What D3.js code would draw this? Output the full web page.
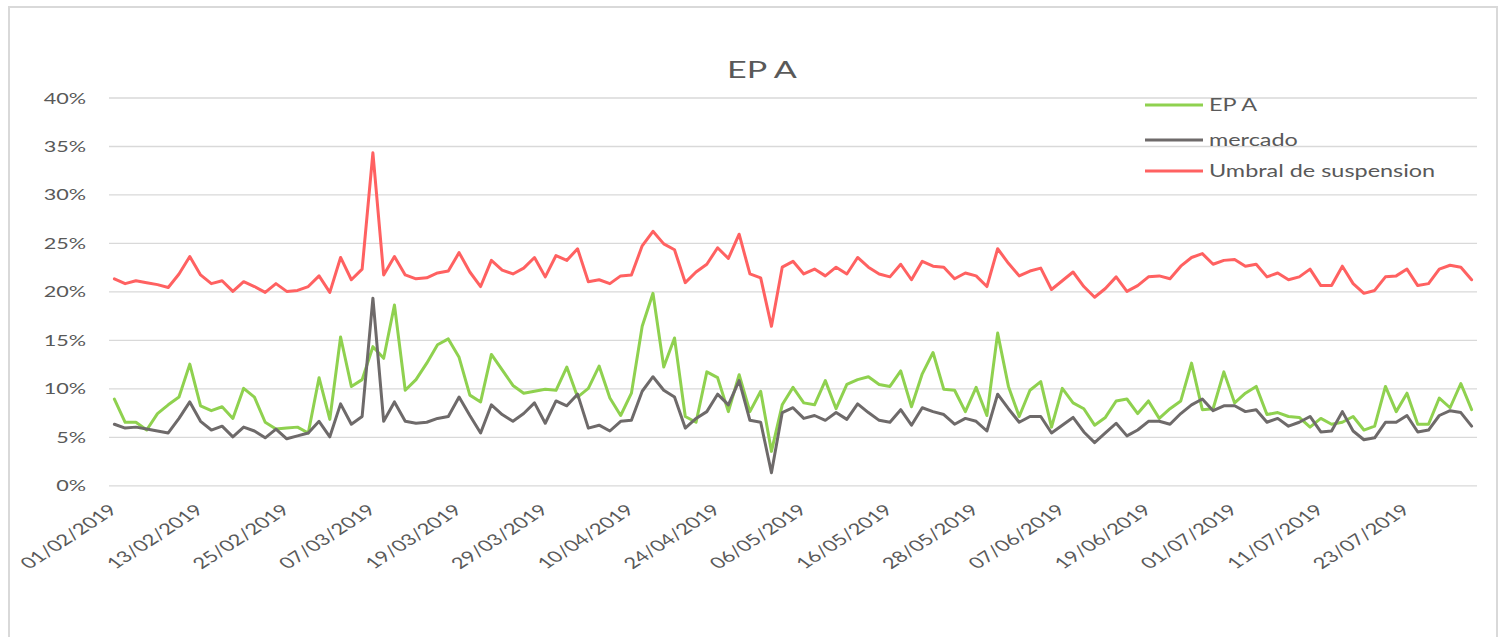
<!DOCTYPE html>
<html>
<head>
<meta charset="utf-8">
<script src="https://cdn.jsdelivr.net/npm/d3@7"></script>
<style>
  html, body { margin: 0; padding: 0; background: #fff; }
  svg { display: block; }
  text { font-family: Lato, "Open Sans", sans-serif; fill: #595959; }
</style>
</head>
<body>
<svg id="chart" width="1506" height="637"></svg>
<script>
// Trading days, February to July 2019
const dates = [
  "01/02/2019","04/02/2019","05/02/2019","06/02/2019","07/02/2019","08/02/2019","11/02/2019","12/02/2019","13/02/2019","14/02/2019",
  "15/02/2019","18/02/2019","19/02/2019","20/02/2019","21/02/2019","22/02/2019","25/02/2019","26/02/2019","27/02/2019","28/02/2019",
  "01/03/2019","04/03/2019","05/03/2019","06/03/2019","07/03/2019","08/03/2019","11/03/2019","12/03/2019","13/03/2019","14/03/2019",
  "15/03/2019","18/03/2019","19/03/2019","20/03/2019","21/03/2019","22/03/2019","25/03/2019","26/03/2019","27/03/2019","28/03/2019",
  "29/03/2019","01/04/2019","02/04/2019","03/04/2019","04/04/2019","05/04/2019","08/04/2019","09/04/2019","10/04/2019","11/04/2019",
  "12/04/2019","15/04/2019","16/04/2019","17/04/2019","22/04/2019","23/04/2019","24/04/2019","25/04/2019","26/04/2019","29/04/2019",
  "30/04/2019","01/05/2019","02/05/2019","03/05/2019","06/05/2019","07/05/2019","08/05/2019","09/05/2019","10/05/2019","13/05/2019",
  "14/05/2019","15/05/2019","16/05/2019","17/05/2019","20/05/2019","21/05/2019","22/05/2019","23/05/2019","24/05/2019","27/05/2019",
  "28/05/2019","29/05/2019","30/05/2019","31/05/2019","03/06/2019","04/06/2019","05/06/2019","06/06/2019","07/06/2019","10/06/2019",
  "11/06/2019","12/06/2019","13/06/2019","14/06/2019","17/06/2019","18/06/2019","19/06/2019","20/06/2019","21/06/2019","24/06/2019",
  "25/06/2019","26/06/2019","27/06/2019","28/06/2019","01/07/2019","02/07/2019","03/07/2019","04/07/2019","05/07/2019","08/07/2019",
  "09/07/2019","10/07/2019","11/07/2019","12/07/2019","15/07/2019","16/07/2019","17/07/2019","18/07/2019","19/07/2019","22/07/2019",
  "23/07/2019","24/07/2019","25/07/2019","26/07/2019","29/07/2019","30/07/2019","31/07/2019"
];

// Values in percent
const epA = [
  8.9, 6.5, 6.5, 5.7, 7.4, 8.3, 9.1, 12.5, 8.2, 7.7,
  8.1, 6.9, 10.0, 9.1, 6.5, 5.8, 5.9, 6.0, 5.4, 11.1,
  6.8, 15.3, 10.2, 10.9, 14.3, 13.1, 18.6, 9.8, 10.9, 12.6,
  14.5, 15.1, 13.2, 9.3, 8.6, 13.5, 11.9, 10.3, 9.5, 9.7,
  9.9, 9.8, 12.2, 9.1, 10.0, 12.3, 9.0, 7.2, 9.5, 16.4,
  19.8, 12.2, 15.2, 7.1, 6.5, 11.7, 11.1, 7.6, 11.4, 7.6,
  9.7, 3.5, 8.3, 10.1, 8.5, 8.3, 10.8, 7.9, 10.4, 10.9,
  11.2, 10.4, 10.2, 11.8, 8.1, 11.5, 13.7, 9.9, 9.8, 7.6,
  10.1, 7.2, 15.7, 10.2, 7.1, 9.8, 10.7, 6.0, 10.0, 8.5,
  7.9, 6.2, 7.0, 8.7, 8.9, 7.4, 8.7, 6.9, 7.9, 8.7,
  12.6, 7.8, 7.9, 11.7, 8.5, 9.5, 10.2, 7.3, 7.5, 7.1,
  7.0, 6.0, 6.9, 6.3, 6.5, 7.1, 5.7, 6.1, 10.2, 7.6,
  9.5, 6.3, 6.3, 9.0, 8.0, 10.5, 7.8
];

const mercado = [
  6.3, 5.9, 6.0, 5.8, 5.6, 5.4, 6.9, 8.6, 6.6, 5.7,
  6.1, 5.0, 6.0, 5.6, 4.9, 5.8, 4.8, 5.1, 5.4, 6.6,
  5.0, 8.4, 6.3, 7.1, 19.3, 6.6, 8.6, 6.6, 6.4, 6.5,
  6.9, 7.1, 9.1, 7.2, 5.4, 8.3, 7.3, 6.6, 7.4, 8.5,
  6.4, 8.7, 8.2, 9.4, 5.9, 6.2, 5.6, 6.6, 6.7, 9.7,
  11.2, 9.8, 9.1, 5.9, 6.9, 7.6, 9.4, 8.3, 10.8, 6.7,
  6.5, 1.3, 7.5, 8.0, 6.9, 7.2, 6.7, 7.5, 6.8, 8.4,
  7.5, 6.7, 6.5, 7.8, 6.2, 8.0, 7.6, 7.3, 6.3, 6.9,
  6.6, 5.6, 9.4, 7.9, 6.5, 7.1, 7.1, 5.4, 6.2, 7.0,
  5.5, 4.4, 5.4, 6.4, 5.1, 5.7, 6.6, 6.6, 6.3, 7.4,
  8.3, 8.9, 7.7, 8.2, 8.2, 7.6, 7.8, 6.5, 6.9, 6.1,
  6.5, 7.1, 5.5, 5.6, 7.6, 5.6, 4.7, 4.9, 6.5, 6.5,
  7.2, 5.5, 5.7, 7.2, 7.7, 7.5, 6.1
];

const umbral = [
  21.3, 20.8, 21.1, 20.9, 20.7, 20.4, 21.8, 23.6, 21.7, 20.8,
  21.1, 20.0, 21.0, 20.5, 19.9, 20.8, 20.0, 20.1, 20.5, 21.6,
  19.9, 23.5, 21.2, 22.3, 34.3, 21.7, 23.6, 21.7, 21.3, 21.4,
  21.9, 22.1, 24.0, 22.0, 20.5, 23.2, 22.2, 21.8, 22.4, 23.5,
  21.5, 23.7, 23.2, 24.4, 21.0, 21.2, 20.8, 21.6, 21.7, 24.7,
  26.2, 24.9, 24.3, 20.9, 22.0, 22.8, 24.5, 23.4, 25.9, 21.8,
  21.4, 16.4, 22.5, 23.1, 21.8, 22.3, 21.6, 22.5, 21.8, 23.5,
  22.5, 21.8, 21.5, 22.8, 21.2, 23.1, 22.6, 22.5, 21.3, 21.9,
  21.6, 20.5, 24.4, 22.9, 21.6, 22.1, 22.4, 20.2, 21.1, 22.0,
  20.5, 19.4, 20.3, 21.5, 20.0, 20.6, 21.5, 21.6, 21.3, 22.6,
  23.5, 23.9, 22.8, 23.2, 23.3, 22.6, 22.8, 21.5, 21.9, 21.2,
  21.5, 22.3, 20.6, 20.6, 22.6, 20.8, 19.8, 20.1, 21.5, 21.6,
  22.3, 20.6, 20.8, 22.3, 22.7, 22.5, 21.2
];

const yTicks = [0, 5, 10, 15, 20, 25, 30, 35, 40];
const labelStep = 8;

const series = [
  { name: "EP A", values: epA, color: "#8fd14f" },
  { name: "mercado", values: mercado, color: "#6e6a6a" },
  { name: "Umbral de suspension", values: umbral, color: "#ff6161" }
];

const svg = d3.select("#chart");
const plot = { left: 109, right: 1477, top: 97.5, bottom: 485.3 };
const stretch = 1.42; // horizontal widening of all lettering

// outer frame
svg.append("rect")
  .attr("x", 9).attr("y", 7)
  .attr("width", 1488).attr("height", 660)
  .attr("fill", "#fff")
  .attr("stroke", "#d9d9d9").attr("stroke-width", 2);

const x = d3.scaleBand().domain(dates).range([plot.left, plot.right]).padding(0);
const y = d3.scaleLinear().domain([0, 40]).range([plot.bottom, plot.top]);
const cx = d => x(d) + x.bandwidth() / 2;

// gridlines and percentage labels
const yAxis = svg.append("g")
  .attr("transform", `translate(${plot.left},0)`)
  .call(d3.axisLeft(y).tickValues(yTicks).tickSize(-(plot.right - plot.left)).tickFormat(d => d + "%"));
yAxis.select(".domain").remove();
yAxis.selectAll(".tick line").attr("stroke", "#d9d9d9").attr("stroke-width", 1.3);
yAxis.selectAll(".tick text")
  .attr("x", null).attr("dy", null)
  .attr("text-anchor", "end")
  .attr("transform", `translate(-23,5.5) scale(1.35,1)`)
  .style("font-size", "16px")
  .style("font-family", "Lato, sans-serif")
  .attr("fill", "#595959");

// date labels every eighth trading day
const xAxis = svg.append("g")
  .attr("transform", `translate(0,${plot.bottom})`)
  .call(d3.axisBottom(x).tickValues(dates.filter((d, i) => i % labelStep === 0)).tickSize(0));
xAxis.select(".domain").remove();
xAxis.selectAll(".tick text")
  .attr("y", null).attr("dy", null)
  .attr("text-anchor", "end")
  .attr("transform", `translate(4,26) scale(${stretch},1) rotate(-43)`)
  .style("font-size", "15.5px")
  .style("font-family", "Lato, sans-serif")
  .attr("fill", "#595959");

// series lines
const line = d3.line()
  .x((v, i) => cx(dates[i]))
  .y(v => y(v));

svg.append("g").selectAll("path")
  .data(series)
  .join("path")
  .attr("d", s => line(s.values))
  .attr("fill", "none")
  .attr("stroke", s => s.color)
  .attr("stroke-width", 3)
  .attr("stroke-linejoin", "round")
  .attr("stroke-linecap", "round");

// title
svg.append("text")
  .attr("text-anchor", "middle")
  .attr("transform", `translate(762,78) scale(${stretch},1)`)
  .style("font-size", "24px")
  .text("EP A");

// legend
const legendY = [105, 140, 171];
const legend = svg.append("g").selectAll("g")
  .data(series)
  .join("g")
  .attr("transform", (s, i) => `translate(1145,${legendY[i]})`);
legend.append("line")
  .attr("x1", 0).attr("x2", 58)
  .attr("stroke", s => s.color)
  .attr("stroke-width", 3);
legend.append("text")
  .attr("transform", `translate(64,6) scale(${stretch},1)`)
  .style("font-size", "16.5px")
  .text(s => s.name);
</script>
</body>
</html>
